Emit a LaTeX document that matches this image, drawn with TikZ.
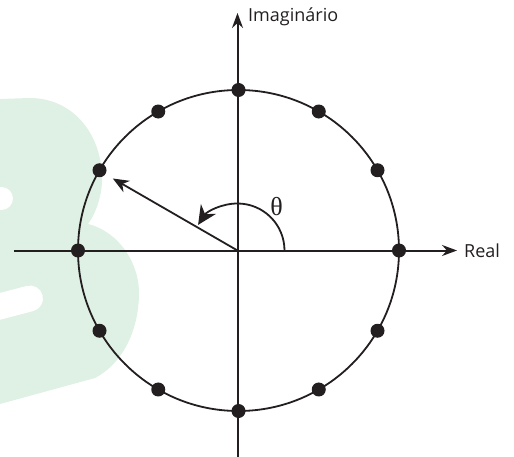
\documentclass[tikz,border=0pt]{standalone}
\usepackage{fontspec}
\setmainfont{Open Sans}
\newfontfamily\thetafont{Liberation Serif}
\usetikzlibrary{arrows.meta,calc}
\definecolor{blob}{HTML}{DFF0E4}
\definecolor{ink}{HTML}{231F20}
\tikzset{
  axisline/.style={ink, line width=2pt, -{Stealth[length=15pt,width=11pt]}},
  rim/.style={ink, line width=1.8pt},
  dot/.style={circle, fill=ink, inner sep=0pt, minimum size=14pt},
  lbl/.style={ink, inner sep=0pt, font=\fontsize{18}{21}\selectfont},
}
\begin{document}
\begin{tikzpicture}[x=1pt,y=-1pt]
\useasboundingbox (0,0) rectangle (514,457);
% watermark
\fill[blob] (0,99) -- (30,98) .. controls (70,98) and (100,130) .. (102,175)
  .. controls (103,195) and (95,215) .. (88,224)
  .. controls (120,232) and (140,265) .. (139,295)
  .. controls (138,335) and (120,365) .. (95,378) -- (0,404) -- cycle;
\draw[white, line width=23pt, line cap=round] (-12,198.5) -- (1.5,198.5);
\draw[white, line width=26pt, line cap=round] (-12,309.5) -- (30,298.5);
% centre and axes
\coordinate (o) at (237.5,250.5);
\coordinate (xl) at (14,250.5);
\coordinate (xr) at (457,250.5);
\coordinate (yb) at (237.5,457);
\coordinate (yt) at (237.5,13);
\draw[axisline] (xl) -- (xr);
\draw[axisline] (yb) -- (yt);
\node[lbl, anchor=west] (re) at (464,250.5) {Real};
\node[lbl, anchor=west] (im) at (248,17) {Imaginário};
% circle
\draw[rim] (238.5,250.5) circle[radius=160.5];
\foreach \k in {0,...,11} {
  \node[dot] (d\k) at ($(238.5,250.5)+(\k*30:160.5 and -160.5)$) {};
}
% radius vector
\coordinate (tip) at ($(o)+(150:144 and -144)$);
\draw[ink, line width=1.8pt, -{Stealth[length=16pt,width=13pt,inset=5pt]}] (o) -- (tip);
% angle arc
\draw[ink, line width=1.8pt, -{Stealth[length=19pt,width=18pt]}] (284.5,250.5) arc[start angle=0, end angle=-147, radius=47];
\node[ink, inner sep=0pt, font=\thetafont\fontsize{26}{29}\selectfont] (th) at (276.5,207) {θ};
\end{tikzpicture}
\end{document}
